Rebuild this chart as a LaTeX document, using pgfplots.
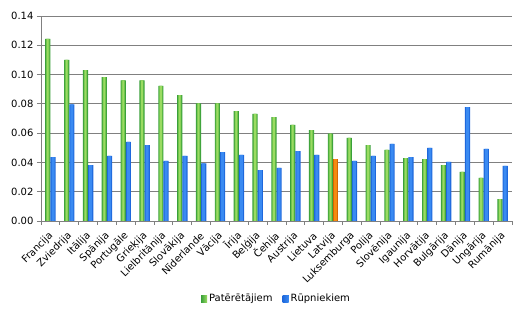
\documentclass[border=0pt]{standalone}
\usepackage{fontspec}
\setmainfont{DejaVu Sans}
\usepackage{pgfplots}
\usepackage{pgfplotstable}
\pgfplotsset{compat=1.18}
\definecolor{gdark}{HTML}{3AA03A}
\definecolor{gmid}{HTML}{6CC24A}
\definecolor{glight}{HTML}{9ADB62}
\definecolor{bdark}{HTML}{1E68DC}
\definecolor{blight}{HTML}{3A8AF2}
\definecolor{odark}{HTML}{D86400}
\definecolor{olight}{HTML}{F58A10}
\definecolor{axgray}{HTML}{808080}
\pgfplotstableread{
x g b
0 0.1243 0.0437
1 0.1100 0.0797
2 0.1031 0.0382
3 0.0983 0.0444
4 0.0961 0.0540
5 0.0961 0.0519
6 0.0922 0.0410
7 0.0860 0.0444
8 0.0804 0.0394
9 0.0804 0.0471
10 0.0751 0.0451
11 0.0731 0.0348
12 0.0710 0.0362
13 0.0656 0.0478
14 0.0621 0.0451
15 0.0596 nan
16 0.0567 0.0410
17 0.0519 0.0444
18 0.0485 0.0526
19 0.0430 0.0437
20 0.0423 0.0499
21 0.0382 0.0403
22 0.0335 0.0778
23 0.0294 0.0492
24 0.0150 0.0376
}\data
\begin{document}
\begin{tikzpicture}[font=\fontsize{10}{12}\selectfont]
\path[use as bounding box] (-41pt,-99pt) rectangle (486pt,221pt);
\begin{axis}[
  scale only axis,
  width=471pt, height=205pt,
  xmin=-0.5, xmax=24.5,
  ymin=0, ymax=0.14,
  axis x line*=bottom,
  axis y line*=left,
  axis line style={axgray, line width=0.8pt},
  xtick={-0.5,0.5,...,24.5},
  x tick label as interval,
  xticklabel style={xshift=1pt, yshift=-9pt, rotate=45, anchor=east, inner sep=0pt},
  xticklabels={Francija,Zviedrija,Itālija,Spānija,Portugāle,Grieķija,Lielbritānija,Slovākija,Nīderlande,Vācija,Īrija,Beļģija,Čehija,Austrija,Lietuva,Latvija,Luksemburga,Polija,Slovēnija,Igaunija,Horvātija,Bulgārija,Dānija,Ungārija,Rumānija},
  ytick={0,0.02,...,0.14},
  yticklabel style={/pgf/number format/.cd, fixed, fixed zerofill, precision=2, assume math mode=true},
  tick align=outside,
  major tick length=4pt,
  tick style={axgray, line width=0.8pt},
  ymajorgrids,
  grid style={axgray, line width=0.8pt},
  legend style={at={(0.5,-0.38)}, anchor=center, draw=none, legend columns=2,
    /tikz/every even column/.append style={column sep=8pt}},
  legend cell align=left,
]
\addplot[ybar, bar width=5.2pt, bar shift=-2.6pt, draw=none, fill=gdark,
  legend image code/.code={\path[left color=gdark, right color=glight] (0pt,-3.5pt) rectangle (6pt,3.5pt);}]
  table[x=x,y=g] {\data};
\addlegendentry{Patērētājiem}
\addplot[ybar, bar width=5.2pt, bar shift=2.6pt, draw=none, fill=bdark,
  legend image code/.code={\path[left color=bdark, right color=blight] (0pt,-3.5pt) rectangle (6pt,3.5pt);}]
  table[x=x,y=b] {\data};
\addlegendentry{Rūpniekiem}
\addplot[ybar, bar width=3.4pt, bar shift=-2.6pt, draw=none, fill=gmid, forget plot]
  table[x=x,y=g] {\data};
\addplot[ybar, bar width=1.8pt, bar shift=-2.6pt, draw=none, fill=glight, forget plot]
  table[x=x,y=g] {\data};
\addplot[ybar, bar width=3.0pt, bar shift=2.6pt, draw=none, fill=blight, forget plot]
  table[x=x,y=b] {\data};
\addplot[ybar, bar width=5.2pt, bar shift=2.6pt, draw=none, fill=odark, forget plot]
  coordinates {(15,0.0423)};
\addplot[ybar, bar width=3.0pt, bar shift=2.6pt, draw=none, fill=olight, forget plot]
  coordinates {(15,0.0423)};
\end{axis}
\end{tikzpicture}
\end{document}
